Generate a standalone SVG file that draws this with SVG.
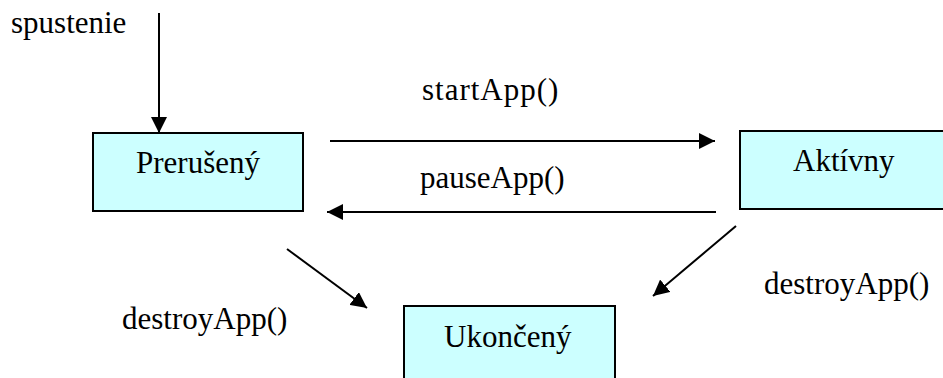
<svg xmlns="http://www.w3.org/2000/svg" width="943" height="378" viewBox="0 0 943 378">
  <style>
    .state { fill: #CCFFFF; stroke: #000000; stroke-width: 2; }
    .edge { stroke: #000000; stroke-width: 2; fill: none; marker-end: url(#head); }
    .lbl { font-family: "Liberation Serif", "Times New Roman", serif; font-size: 31px; fill: #000000; }
  </style>
  <defs>
    <marker id="head" markerUnits="userSpaceOnUse" markerWidth="16" markerHeight="16" viewBox="0 0 16 16" refX="16" refY="8" orient="auto">
      <path d="M0,0 L16,8 L0,16 Z" fill="#000000"/>
    </marker>
  </defs>

  <!-- transitions and their labels -->
  <g id="connectors">
    <line class="edge" x1="159" y1="13" x2="159" y2="133"/>
    <line class="edge" x1="330" y1="141" x2="715" y2="141"/>
    <line class="edge" x1="716" y1="212" x2="327" y2="212"/>
    <line class="edge" x1="287" y1="249" x2="367" y2="308"/>
    <line class="edge" x1="736" y1="226" x2="653" y2="296"/>
    <text class="lbl" x="11" y="33">spustenie</text>
    <text class="lbl" x="422" y="100" letter-spacing="1">startApp()</text>
    <text class="lbl" x="420" y="188">pauseApp()</text>
    <text class="lbl" x="122" y="329">destroyApp()</text>
    <text class="lbl" x="764" y="294">destroyApp()</text>
  </g>

  <!-- states -->
  <g id="preruseny">
    <rect class="state" x="93" y="133" width="210" height="78"/>
    <text class="lbl" x="136" y="173">Prerušený</text>
  </g>

  <g id="aktivny">
    <rect class="state" x="740" y="131" width="212" height="78"/>
    <text class="lbl" x="793" y="171">Aktívny</text>
  </g>

  <g id="ukonceny">
    <rect class="state" x="404" y="306" width="211" height="80"/>
    <text class="lbl" x="444" y="347">Ukončený</text>
  </g>
</svg>
